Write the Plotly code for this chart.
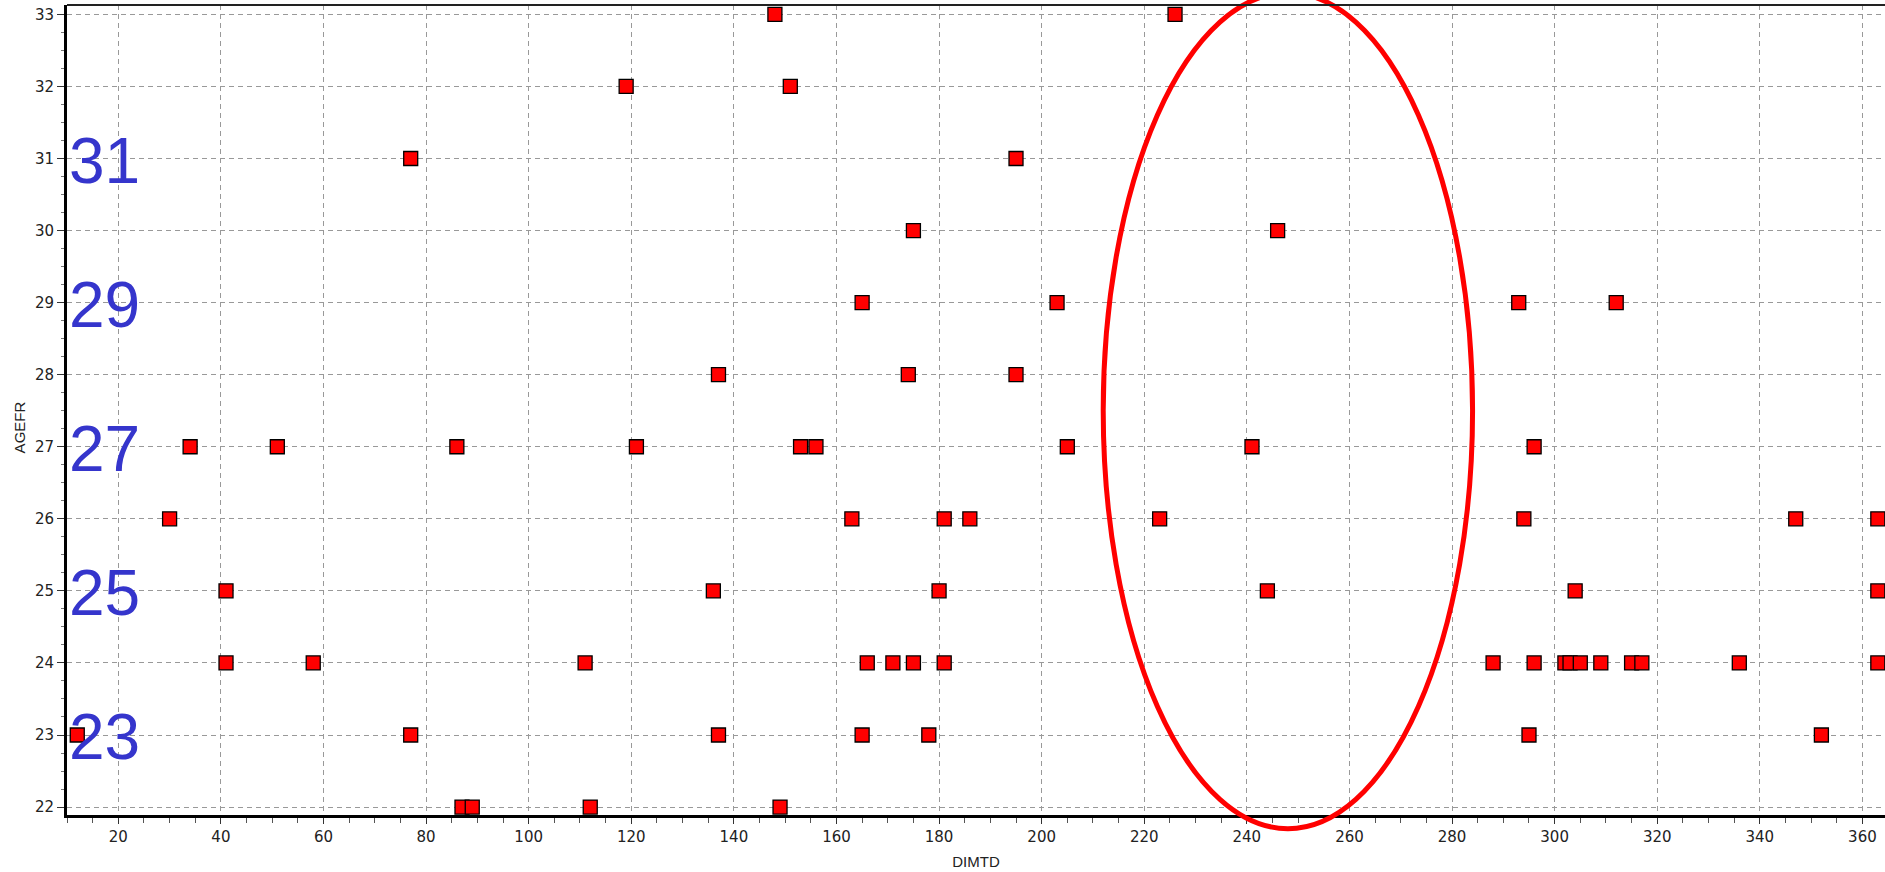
import plotly.graph_objects as go

# ---- data ----
dimtd = [148, 226,
         119, 151,
         77, 195,
         175, 246,
         165, 203, 293, 312,
         137, 174, 195,
         34, 51, 86, 121, 153, 156, 205, 241, 296,
         30, 163, 181, 186, 223, 294, 347, 363,
         41, 136, 180, 244, 304, 363,
         41, 58, 111, 166, 171, 175, 181, 288, 296, 302, 303, 305, 309, 315, 317, 336, 363,
         12, 77, 137, 165, 178, 295, 352,
         87, 89, 112, 149]
agefr = [33, 33,
         32, 32,
         31, 31,
         30, 30,
         29, 29, 29, 29,
         28, 28, 28,
         27, 27, 27, 27, 27, 27, 27, 27, 27,
         26, 26, 26, 26, 26, 26, 26, 26,
         25, 25, 25, 25, 25, 25,
         24, 24, 24, 24, 24, 24, 24, 24, 24, 24, 24, 24, 24, 24, 24, 24, 24,
         23, 23, 23, 23, 23, 23, 23,
         22, 22, 22, 22]
side_labels = ["31", "29", "27", "25", "23"]
side_label_values = [31, 29, 27, 25, 23]

# highlighted region (data units)
ellipse_center = (248, 27.5)
ellipse_half = (36, 5.8)

x_range = [10.0, 364.4]
y_range = [21.89, 33.13]

fig = go.Figure()
fig.add_trace(go.Scatter(
    x=dimtd, y=agefr, mode="markers",
    marker=dict(symbol="square", size=14, color="#ff0000",
                line=dict(color="#000000", width=1.3)),
    showlegend=False, hoverinfo="x+y"))


def px(x):
    return (x - x_range[0]) / (x_range[1] - x_range[0])


def py(y):
    return (y - y_range[0]) / (y_range[1] - y_range[0])


cx, cy = ellipse_center
hx, hy = ellipse_half
fig.add_shape(type="circle", xref="paper", yref="paper",
              x0=px(cx - hx), x1=px(cx + hx), y0=py(cy - hy), y1=py(cy + hy),
              line=dict(color="#ff0000", width=5), layer="above")

# top frame line
fig.add_shape(type="line", xref="paper", yref="paper", x0=0, x1=1, y0=1, y1=1,
              line=dict(color="#222222", width=2))

for lab, v in zip(side_labels, side_label_values):
    fig.add_annotation(text=lab, xref="paper", yref="y", x=0, y=v,
                       xanchor="left", yanchor="middle", showarrow=False,
                       xshift=0, yshift=-2,
                       font=dict(family="Liberation Sans, Arial", size=64, color="#3535cc"))

fig.add_annotation(text="AGEFR", xref="paper", yref="paper",
                   x=-0.0262, y=0.479, textangle=-90, showarrow=False,
                   xanchor="center", yanchor="middle",
                   font=dict(family="Liberation Sans, Arial", size=15, color="#222222"))

grid_common = dict(showgrid=True, gridcolor="#999999", gridwidth=1, griddash="5px,4px",
                   zeroline=False, showline=True, linecolor="#000000", linewidth=3,
                   ticks="outside", tickcolor="#333333", automargin=False,
                   tickfont=dict(family="DejaVu Sans", size=15, color="#222222"))

fig.update_xaxes(range=x_range, dtick=20, tick0=0, ticklen=6,
                 minor=dict(dtick=5, ticks="outside", ticklen=5, tickcolor="#555555", showgrid=False),
                 title=dict(text="DIMTD", standoff=12,
                            font=dict(family="Liberation Sans, Arial", size=15, color="#222222")),
                 **grid_common)
fig.update_yaxes(range=y_range, dtick=1, tick0=0, ticklen=7,
                 minor=dict(dtick=0.25, ticks="outside", ticklen=3, tickcolor="#777777", showgrid=False),
                 **grid_common)

fig.update_layout(width=1885, height=872,
                  margin=dict(l=67, r=0, t=5, b=57),
                  plot_bgcolor="#ffffff", paper_bgcolor="#ffffff")

fig.write_html("out.html", config={"displayModeBar": False},
               post_script="document.body.style.margin='0px';document.body.style.overflow='hidden';")
